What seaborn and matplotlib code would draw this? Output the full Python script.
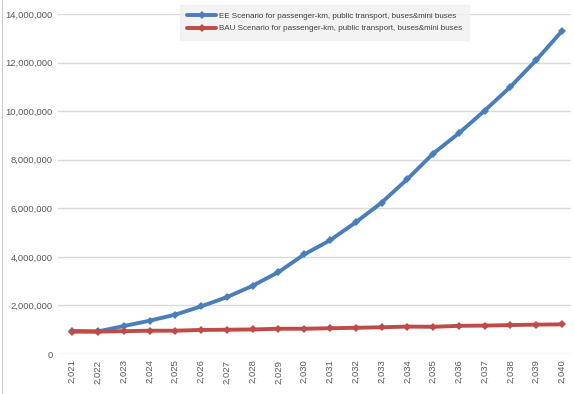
import matplotlib
matplotlib.use("Agg")
import matplotlib.pyplot as plt
import seaborn as sns
import pandas as pd
from matplotlib.ticker import FuncFormatter

years = list(range(2021, 2041))
year_labels = [f"{y:,}" for y in years]

ee_values = [950000, 930000, 1150000, 1370000, 1620000, 1960000, 2340000, 2810000,
             3370000, 4100000, 4680000, 5420000, 6230000, 7200000, 8250000, 9090000,
             10020000, 11000000, 12100000, 13300000]
bau_values = [920000, 920000, 940000, 960000, 960000, 990000, 1000000, 1010000,
              1040000, 1040000, 1060000, 1080000, 1100000, 1130000, 1120000, 1160000,
              1170000, 1190000, 1210000, 1220000]

ee_name = "EE Scenario for passenger-km, public transport, buses&mini buses"
bau_name = "BAU Scenario for passenger-km, public transport, buses&mini buses"

df = pd.DataFrame({
    "pos": list(range(len(years))) * 2,
    "value": ee_values + bau_values,
    "scenario": [ee_name] * len(years) + [bau_name] * len(years),
})

sns.set_style("white")
plt.rcParams["font.family"] = ["Liberation Sans", "DejaVu Sans"]

fig = plt.figure(figsize=(5.74, 3.94), dpi=100)
ax = fig.add_axes([58 / 574, 40 / 394, 513 / 574, 340 / 394])

palette = {ee_name: "#4a7ebb", bau_name: "#be4b48"}
sns.lineplot(data=df, x="pos", y="value", hue="scenario", palette=palette,
             marker="D", markersize=4, markeredgewidth=0, linewidth=2.8,
             ax=ax, legend=True)

ax.set_ylim(0, 14000000)
ax.set_xlim(-0.55, 19.35)
ax.set_yticks(range(0, 14000001, 2000000))
ax.yaxis.set_major_formatter(FuncFormatter(lambda v, p: f"{int(v):,}"))
ax.set_xticks(range(len(years)))
ax.set_xticklabels(year_labels, rotation=90)
ax.tick_params(axis="both", labelsize=6.8, colors="#595959", length=0, pad=4)
ax.grid(axis="y", color="#d9d9d9", linewidth=1)
ax.set_axisbelow(True)
ax.set_xlabel("")
ax.set_ylabel("")
for s in ax.spines.values():
    s.set_visible(False)

leg = ax.legend(loc="upper left", bbox_to_anchor=(180 / 574, 1 - 5 / 394),
                bbox_transform=fig.transFigure, fontsize=5.8, frameon=True,
                handlelength=3.6, handletextpad=0.3, borderpad=0.9,
                borderaxespad=0, labelspacing=0.6, fancybox=False)
leg.get_frame().set_facecolor("#f0f0f0")
leg.get_frame().set_edgecolor("#f0f0f0")
for t in leg.get_texts():
    t.set_color("#404040")

fig.add_artist(plt.Line2D([2 / 574, 2 / 574], [0, 1], color="#cccccc",
                          linewidth=0.8, transform=fig.transFigure))

fig.savefig("out.png", dpi=100)
